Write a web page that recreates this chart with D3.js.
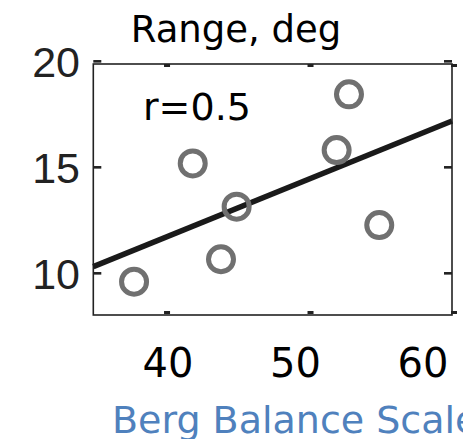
<!DOCTYPE html>
<html>
<head>
<meta charset="utf-8">
<script src="https://cdn.jsdelivr.net/npm/d3@7"></script>
<style>
  html, body { margin: 0; padding: 0; background: #fff; }
  svg { display: block; }
</style>
</head>
<body>
<svg id="chart" width="463" height="439"></svg>
<script>
// Berg Balance Scale score vs. range of motion (deg)
const bergScore = [37.84, 41.93, 43.90, 44.99, 51.96, 52.82, 54.93];
const rangeDeg  = [9.59, 15.17, 10.65, 13.13, 15.80, 18.43, 12.26];
const xTicks = [40, 50, 60];
const yTicks = [10, 15, 20];
const titleText = "Range, deg";
const xTitleText = "Berg Balance Scale";
const rText = "r=0.5";

const svg = d3.select("#chart");
const plot = { left: 93.3, right: 452, top: 64, bottom: 315 };

const x = d3.scaleLinear().domain([35, 60]).range([plot.left, plot.right]);
const y = d3.scaleLinear().domain([8.02, 19.86]).range([plot.bottom, plot.top]);
// tick labels sit on their own band beneath the frame
const xLabelPos = d3.scaleLinear().domain([40, 60]).range([168, 423]);

const wide = "'DejaVu Sans', 'Noto Sans', sans-serif";

// least-squares fit of range against score
const mx = d3.mean(bergScore), my = d3.mean(rangeDeg);
const sxy = d3.sum(bergScore, (v, i) => (v - mx) * (rangeDeg[i] - my));
const sxx = d3.sum(bergScore, v => (v - mx) ** 2);
const slope = sxy / sxx, intercept = my - slope * mx;
const [x0, x1] = x.domain();

// frame
svg.append("rect")
  .attr("x", plot.left).attr("y", plot.top)
  .attr("width", plot.right - plot.left).attr("height", plot.bottom - plot.top)
  .attr("fill", "none").attr("stroke", "#222").attr("stroke-width", 1.6);

// inward ticks on all four sides
const tickG = svg.append("g").attr("fill", "#222");
xTicks.forEach(t => {
  tickG.append("rect").attr("x", x(t) - 1).attr("y", plot.top).attr("width", 6).attr("height", 3);
  tickG.append("rect").attr("x", x(t) - 1).attr("y", plot.bottom - 4).attr("width", 6).attr("height", 3);
});
yTicks.forEach(t => {
  tickG.append("rect").attr("x", plot.left).attr("y", y(t) - 1).attr("width", 8).attr("height", 2.6);
  tickG.append("rect").attr("x", plot.right - 8).attr("y", y(t) - 1).attr("width", 8).attr("height", 2.6);
});

// y tick labels
svg.append("g").selectAll("text").data(yTicks).join("text")
  .attr("x", 80).attr("y", d => y(d) + 16)
  .attr("text-anchor", "end")
  .attr("font-family", "'Liberation Sans', Arial, sans-serif")
  .attr("font-size", 43).attr("fill", "#222")
  .text(d => d);

// x tick labels
svg.append("g").selectAll("text").data(xTicks).join("text")
  .attr("x", d => xLabelPos(d)).attr("y", 377)
  .attr("text-anchor", "middle")
  .attr("font-family", wide)
  .attr("font-size", 40).attr("fill", "#000")
  .text(d => d);

// fit line
svg.append("line")
  .attr("x1", x(x0)).attr("y1", y(intercept + slope * x0))
  .attr("x2", x(x1)).attr("y2", y(intercept + slope * x1))
  .attr("stroke", "#1a1a1a").attr("stroke-width", 5.5);

// data points
svg.append("g").selectAll("circle").data(bergScore).join("circle")
  .attr("cx", d => x(d)).attr("cy", (d, i) => y(rangeDeg[i]))
  .attr("r", 12.5)
  .attr("fill", "none").attr("stroke", "#707070").attr("stroke-width", 5);

// title
svg.append("text")
  .attr("x", 236).attr("y", 42).attr("text-anchor", "middle")
  .attr("font-family", wide).attr("font-size", 37).attr("fill", "#000")
  .text(titleText);

// correlation annotation
svg.append("text")
  .attr("x", 143).attr("y", 120)
  .attr("font-family", wide).attr("font-size", 38).attr("fill", "#000")
  .text(rText);

// x axis title
svg.append("text")
  .attr("x", 112).attr("y", 433)
  .attr("font-family", wide).attr("font-size", 38).attr("fill", "#4f81bd")
  .text(xTitleText);
</script>
</body>
</html>
